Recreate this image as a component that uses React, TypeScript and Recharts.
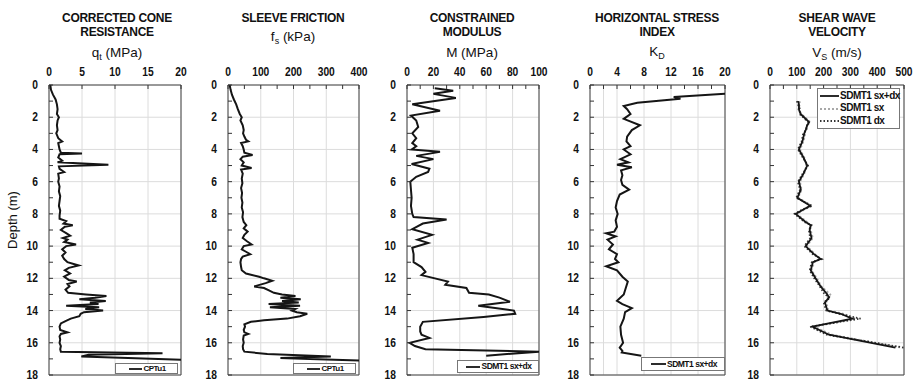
import { CartesianGrid, Line, LineChart, ReferenceArea, XAxis, YAxis } from "recharts";

// ---- data (depth in m) ----
const qtDepth = [0, 0.3, 0.6, 0.9, 1.2, 1.5, 1.8, 2.0, 2.2, 2.5, 2.8, 3.0, 3.3, 3.5, 3.6, 3.8, 4.0, 4.2, 4.25, 4.3, 4.5, 4.7, 4.8, 4.95, 5.05, 5.2, 5.4, 5.5, 5.8, 6.0, 6.3, 6.6, 6.9, 7.2, 7.5, 7.8, 8.1, 8.3, 8.45, 8.6, 8.7, 8.8, 9.0, 9.2, 9.35, 9.5, 9.6, 9.75, 9.9, 10.0, 10.2, 10.4, 10.6, 10.8, 11.0, 11.2, 11.35, 11.5, 11.7, 11.9, 12.1, 12.2, 12.35, 12.5, 12.7, 12.9, 13.0, 13.1, 13.2, 13.3, 13.4, 13.5, 13.6, 13.7, 13.75, 13.8, 13.9, 14.0, 14.1, 14.2, 14.35, 14.5, 14.65, 14.8, 15.0, 15.2, 15.35, 15.45, 15.6, 15.8, 16.0, 16.2, 16.4, 16.55, 16.65, 16.75, 16.85, 16.95, 17.05];
const qtValues = [0.2, 0.3, 0.6, 1.0, 1.2, 1.3, 1.2, 1.5, 1.3, 1.2, 1.3, 1.1, 1.4, 2.0, 1.4, 1.5, 1.6, 1.8, 5.0, 1.6, 1.4, 2.0, 1.3, 9.0, 1.5, 1.6, 2.3, 1.4, 1.5, 1.4, 1.6, 1.5, 1.7, 1.6, 1.5, 1.7, 1.6, 1.6, 2.6, 2.2, 3.6, 2.4, 1.8, 2.6, 3.2, 2.1, 2.8, 2.3, 4.1, 2.6, 2.0, 2.5, 2.0, 2.3, 2.8, 4.5, 3.0, 2.4, 3.2, 2.3, 3.0, 4.2, 2.8, 3.1, 2.5, 2.9, 5.6, 8.7, 7.0, 4.6, 8.6, 6.2, 7.5, 2.6, 5.0, 7.6, 5.5, 8.2, 5.3, 4.8, 4.6, 3.3, 2.5, 1.8, 1.6, 1.7, 2.8, 1.8, 1.6, 1.7, 1.6, 1.8, 1.7, 1.8, 17.2, 6.0, 4.9, 12.0, 20.0];

const fsDepth = [0, 0.3, 0.6, 0.9, 1.2, 1.5, 1.8, 2.0, 2.2, 2.5, 2.8, 3.0, 3.2, 3.4, 3.5, 3.6, 3.8, 4.0, 4.2, 4.35, 4.45, 4.6, 4.8, 5.0, 5.15, 5.25, 5.5, 5.8, 6.1, 6.4, 6.7, 7.0, 7.3, 7.6, 7.9, 8.2, 8.5, 8.7, 8.9, 9.1, 9.3, 9.5, 9.7, 9.9, 10.0, 10.2, 10.35, 10.5, 10.65, 10.8, 11.0, 11.3, 11.5, 11.7, 11.9, 12.0, 12.15, 12.3, 12.5, 12.6, 12.75, 12.9, 13.0, 13.1, 13.2, 13.3, 13.4, 13.5, 13.6, 13.7, 13.8, 13.9, 14.0, 14.1, 14.2, 14.35, 14.5, 14.6, 14.7, 14.85, 15.0, 15.2, 15.35, 15.45, 15.55, 15.8, 16.0, 16.2, 16.4, 16.55, 16.7, 16.85, 16.95, 17.0, 17.1];
const fsValues = [5, 8, 12, 18, 25, 30, 36, 42, 38, 45, 48, 46, 50, 55, 62, 40, 45, 48, 50, 75, 45, 38, 48, 42, 72, 40, 45, 42, 44, 40, 43, 41, 44, 42, 46, 44, 48, 56, 48, 60, 50, 45, 58, 72, 48, 42, 55, 68, 45, 40, 38, 40, 42, 55, 95, 110, 135, 115, 80, 110, 125, 140, 165, 206, 160, 222, 165, 216, 124, 220, 128, 205, 195, 210, 242, 220, 180, 110, 70, 50, 52, 48, 50, 62, 48, 46, 48, 45, 46, 50, 120, 314, 160, 250, 400];

const mDepth = [0.2, 0.35, 0.55, 0.8, 1.2, 1.6, 1.9, 2.2, 2.6, 3.0, 3.3, 3.6, 3.8, 4.0, 4.15, 4.4, 4.6, 4.9, 5.2, 5.4, 5.7, 6.0, 6.5, 7.0, 7.5, 8.0, 8.2, 8.35, 8.6, 8.95, 9.3, 9.6, 9.8, 10.1, 10.5, 11.0, 11.3, 11.6, 11.8, 12.2, 12.4, 12.6, 12.9, 13.0, 13.2, 13.45, 13.7, 14.0, 14.2, 14.4, 14.7, 15.0, 15.3, 15.5, 15.7, 16.0, 16.2, 16.4, 16.55, 16.8];
const mValues = [21, 35, 20, 37, 4, 25, 3, 7, 8.5, 4, 7, 4, 7, 3.5, 25, 7, 20, 3.5, 17, 16, 7, 2.5, 3, 3.5, 3, 4, 5, 30, 12, 4, 19, 8, 16, 4, 5, 5, 11, 14, 11, 31, 29, 45, 47, 62, 70, 78, 54, 81, 82, 58, 12, 10, 10, 11, 17, 2, 6, 14, 100, 60];

const kdDepth = [0.55, 0.75, 0.85, 1.1, 1.3, 1.5, 1.8, 2.1, 2.5, 2.8, 3.2, 3.5, 3.8, 4.0, 4.3, 4.6, 4.8, 4.95, 5.1, 5.3, 5.6, 5.9, 6.2, 6.5, 6.8, 7.2, 7.6, 8.0, 8.4, 8.8, 9.1, 9.2, 9.4, 9.6, 9.9, 10.2, 10.5, 10.8, 11.0, 11.25, 11.5, 11.9, 12.2, 12.6, 13.0, 13.4, 13.6, 13.85, 14.1, 14.5, 15.0, 15.5, 16.0, 16.3, 16.5, 16.6, 16.8];
const kdValues = [20, 12.4, 13.4, 7.0, 5.0, 5.5, 6.0, 5.0, 7.4, 6.2, 5.5, 5.4, 6.0, 5.0, 6.0, 4.5, 5.7, 4.0, 6.2, 4.6, 4.8, 4.6, 4.8, 5.8, 4.4, 4.0, 3.8, 4.1, 3.8, 4.0, 3.6, 2.4, 3.8, 2.6, 3.4, 2.8, 4.0, 3.7, 4.2, 2.4, 4.0, 4.8, 5.6, 5.3, 5.0, 4.0, 4.8, 6.2, 5.2, 5.0, 4.5, 4.6, 4.9, 4.4, 4.8, 4.7, 7.6];

const vsDepth = [1.0, 1.2, 1.5, 1.8, 2.0, 2.3, 2.5, 2.8, 3.0, 3.5, 4.0, 4.5, 5.0, 5.5, 6.0, 6.5, 7.0, 7.5, 7.7, 8.0, 8.5, 8.7, 9.0, 9.5, 10.0, 10.5, 10.8, 11.0, 11.5, 12.0, 12.5, 13.0, 13.2, 13.5, 14.0, 14.2, 14.5, 15.0, 15.5, 16.3];
const vsSxDx = [105, 108, 108, 114, 127, 146, 139, 133, 128, 121, 108, 125, 139, 125, 108, 115, 102, 150, 128, 96, 133, 152, 148, 155, 133, 164, 189, 160, 152, 170, 189, 214, 220, 205, 214, 264, 307, 158, 220, 468];
const vsSx = [110, 112, 105, 118, 130, 150, 140, 130, 132, 125, 112, 128, 135, 128, 112, 118, 105, 155, 132, 100, 138, 150, 152, 160, 138, 168, 185, 165, 155, 175, 192, 225, 215, 210, 218, 275, 320, 165, 230, 490];
const vsDx = [100, 104, 112, 110, 124, 142, 138, 136, 124, 118, 104, 122, 142, 122, 104, 112, 98, 158, 124, 92, 128, 155, 145, 150, 128, 160, 193, 156, 148, 165, 186, 204, 225, 200, 210, 258, 338, 150, 212, 500];

const depthTicks = [0, 1, 2, 3, 4, 5, 6, 7, 8, 9, 10, 11, 12, 13, 14, 15, 16, 17, 18];
const depthMajor = [0, 2, 4, 6, 8, 10, 12, 14, 16, 18];

const qtMajor = [0, 5, 10, 15, 20];
const fsMajor = [0, 100, 200, 300, 400];
const fsMinor = [0, 50, 100, 150, 200, 250, 300, 350, 400];
const mMajor = [0, 20, 40, 60, 80, 100];
const mMinor = [0, 10, 20, 30, 40, 50, 60, 70, 80, 90, 100];
const kdMajor = [0, 4, 8, 12, 16, 20];
const kdMinor = [0, 2, 4, 6, 8, 10, 12, 14, 16, 18, 20];
const kdGrid = [0, 2, 4, 8, 12, 16, 20];
const vsMajor = [0, 100, 200, 300, 400, 500];
const vsMinor = [0, 50, 100, 150, 200, 250, 300, 350, 400, 450, 500];

const qtRows = qtDepth.map((depth, i) => ({ depth, v: qtValues[i] }));
const fsRows = fsDepth.map((depth, i) => ({ depth, v: fsValues[i] }));
const mRows = mDepth.map((depth, i) => ({ depth, v: mValues[i] }));
const kdRows = kdDepth.map((depth, i) => ({ depth, v: kdValues[i] }));
const vsRows = vsDepth.map((depth, i) => ({ depth, sxdx: vsSxDx[i], sx: vsSx[i], dx: vsDx[i] }));

const FONT = "'Liberation Sans', Arial, Helvetica, sans-serif";
const PT = 85; // plot top
const PB = 375; // plot bottom
const AXW = 40; // y axis width
const AXH = 30; // x axis height (above plot)
const MR = 16;
const MB = 5;
const X_GAP = 9;
const Y_GAP = 11;
const SQUEEZE = 0.82; // tick digits in the source are narrow

const tickText = { fontFamily: FONT, fontSize: 12.5, fontWeight: 700, fill: "#111" };

type Series = { key: string; stroke: string; width: number; dash?: string };

type PanelProps = {
  x0: number;
  x1: number;
  rows: any[];
  series: Series[];
  domain: [number, number];
  major: number[];
  minor: number[];
  grid?: number[];
};

function Panel({ x0, x1, rows, series, domain, major, minor, grid }: PanelProps) {
  const xTick = (p: any) => {
    const v = p.payload.value;
    return (
      <g>
        <line x1={p.x} x2={p.x} y1={p.y + X_GAP} y2={p.y + X_GAP + 4} stroke="#333" strokeWidth={1} />
        {major.includes(v) && (
          <text transform={`translate(${p.x},${p.y}) scale(${SQUEEZE},1)`} textAnchor="middle" {...tickText}>
            {v}
          </text>
        )}
      </g>
    );
  };
  const yTick = (p: any) => {
    const v = p.payload.value;
    return (
      <g>
        <line x1={p.x + Y_GAP} x2={p.x + Y_GAP + 4} y1={p.y} y2={p.y} stroke="#333" strokeWidth={1} />
        {depthMajor.includes(v) && (
          <text transform={`translate(${p.x},${p.y + 4}) scale(${SQUEEZE},1)`} textAnchor="end" {...tickText}>
            {v}
          </text>
        )}
      </g>
    );
  };
  return (
    <div style={{ position: "absolute", left: x0 - AXW, top: PT - AXH }}>
      <LineChart
        layout="vertical"
        width={x1 - x0 + AXW + MR}
        height={PB - PT + AXH + MB}
        data={rows}
        margin={{ top: 0, right: MR, bottom: MB, left: 0 }}
      >
        <CartesianGrid stroke="#dcdcdc" horizontalValues={depthMajor} verticalValues={grid ?? major} />
        <XAxis
          type="number"
          orientation="top"
          height={AXH}
          domain={domain}
          ticks={minor}
          allowDataOverflow
          interval={0}
          tickLine={false}
          tickSize={0}
          tickMargin={X_GAP}
          axisLine={false}
          tick={xTick}
        />
        <YAxis
          type="number"
          dataKey="depth"
          domain={[0, 18]}
          ticks={depthTicks}
          allowDataOverflow
          interval={0}
          width={AXW}
          tickLine={false}
          tickSize={0}
          tickMargin={Y_GAP}
          axisLine={false}
          tick={yTick}
        />
        {series.map((s) => (
          <Line
            key={s.key}
            dataKey={s.key}
            type="linear"
            stroke={s.stroke}
            strokeWidth={s.width}
            strokeDasharray={s.dash}
            dot={false}
            isAnimationActive={false}
          />
        ))}
        <ReferenceArea x1={domain[0]} x2={domain[1]} y1={0} y2={18} fill="none" stroke="#444" strokeWidth={1} />
      </LineChart>
    </div>
  );
}

type LegendItem = { label: string; stroke: string; dash?: string };

function LegendBox({
  left,
  top,
  width,
  height,
  rowH,
  size,
  sample,
  items,
}: {
  left: number;
  top: number;
  width: number;
  height: number;
  rowH: number;
  size: number;
  sample: number;
  items: LegendItem[];
}) {
  return (
    <div
      style={{
        position: "absolute",
        left,
        top,
        width,
        height,
        background: "#fff",
        border: "1px solid #777",
        boxSizing: "border-box",
        display: "flex",
        flexDirection: "column",
        justifyContent: "center",
        fontFamily: FONT,
        fontSize: size,
        lineHeight: `${rowH}px`,
        fontWeight: 700,
        letterSpacing: -0.5,
        color: "#111",
      }}
    >
      {items.map((it) => (
        <div key={it.label} style={{ display: "flex", alignItems: "center", justifyContent: items.length > 1 ? "flex-start" : "center", height: rowH, paddingLeft: 2 }}>
          <svg width={sample} height={6} style={{ marginRight: 1, flex: "none" }}>
            <line x1={0} x2={sample} y1={3} y2={3} stroke={it.stroke} strokeWidth={1.8} strokeDasharray={it.dash} />
          </svg>
          <span style={{ whiteSpace: "nowrap" }}>{it.label}</span>
        </div>
      ))}
    </div>
  );
}

function Title({ cx, lines, unit, unitTop }: { cx: number; lines: string[]; unit: any; unitTop: number }) {
  return (
    <>
      {lines.map((l, i) => (
        <div
          key={l}
          style={{
            position: "absolute",
            left: cx - 90,
            width: 180,
            top: 11 + i * 14,
            textAlign: "center",
            fontFamily: FONT,
            fontSize: 12,
            fontWeight: 700,
            lineHeight: "14px",
            color: "#111",
            letterSpacing: -0.3,
          }}
        >
          {l}
        </div>
      ))}
      <div
        style={{
          position: "absolute",
          left: cx - 90,
          width: 180,
          top: unitTop,
          textAlign: "center",
          fontFamily: FONT,
          fontSize: 13.5,
          lineHeight: "16px",
          color: "#111",
        }}
      >
        {unit}
      </div>
    </>
  );
}

const sub = (s: string) => <span style={{ fontSize: 9, position: "relative", top: 3 }}>{s}</span>;

const solid: Series[] = [{ key: "v", stroke: "#151515", width: 2 }];

export default function App() {
  return (
    <div style={{ position: "absolute", left: 0, top: 0, width: 917, height: 380, background: "#fff", overflow: "hidden" }}>
      <Title cx={117} lines={["CORRECTED CONE", "RESISTANCE"]} unit={<>q{sub("t")} (MPa)</>} unitTop={45} />
      <Title cx={293} lines={["SLEEVE FRICTION"]} unit={<>f{sub("s")} (kPa)</>} unitTop={29} />
      <Title cx={472} lines={["CONSTRAINED", "MODULUS"]} unit={<>M (MPa)</>} unitTop={45} />
      <Title cx={657} lines={["HORIZONTAL STRESS", "INDEX"]} unit={<>K{sub("D")}</>} unitTop={44} />
      <Title cx={837} lines={["SHEAR WAVE", "VELOCITY"]} unit={<>V{sub("S")} (m/s)</>} unitTop={45} />

      <div
        style={{
          position: "absolute",
          left: 13 - 40,
          top: 220 - 8,
          width: 80,
          height: 16,
          lineHeight: "16px",
          textAlign: "center",
          transform: "rotate(-90deg)",
          fontFamily: FONT,
          fontSize: 13,
          color: "#111",
        }}
      >
        Depth (m)
      </div>

      <Panel x0={49} x1={181} rows={qtRows} series={solid} domain={[0, 20]} major={qtMajor} minor={qtMajor} />
      <Panel x0={228} x1={359} rows={fsRows} series={solid} domain={[0, 400]} major={fsMajor} minor={fsMinor} />
      <Panel x0={407} x1={539} rows={mRows} series={solid} domain={[0, 100]} major={mMajor} minor={mMinor} />
      <Panel x0={590} x1={725} rows={kdRows} series={solid} domain={[0, 20]} major={kdMajor} minor={kdMinor} grid={kdGrid} />
      <Panel
        x0={770}
        x1={904}
        rows={vsRows}
        series={[
          { key: "sx", stroke: "#a8a8a8", width: 1.8, dash: "2 2" },
          { key: "dx", stroke: "#333", width: 1.8, dash: "1.5 2" },
          { key: "sxdx", stroke: "#151515", width: 1.8 },
        ]}
        domain={[0, 500]}
        major={vsMajor}
        minor={vsMinor}
      />

      <LegendBox left={115} top={363} width={63} height={11} rowH={11} size={8} sample={13} items={[{ label: "CPTu1", stroke: "#151515" }]} />
      <LegendBox left={293} top={363} width={63} height={11} rowH={11} size={8} sample={13} items={[{ label: "CPTu1", stroke: "#151515" }]} />
      <LegendBox left={457} top={360} width={82} height={13} rowH={13} size={8.5} sample={14} items={[{ label: "SDMT1 sx+dx", stroke: "#151515" }]} />
      <LegendBox left={641} top={357} width={84} height={14} rowH={14} size={8.5} sample={15} items={[{ label: "SDMT1 sx+dx", stroke: "#151515" }]} />
      <LegendBox
        left={817}
        top={88}
        width={83}
        height={41}
        rowH={12.5}
        size={10}
        sample={19}
        items={[
          { label: "SDMT1 sx+dx", stroke: "#151515" },
          { label: "SDMT1 sx", stroke: "#a8a8a8", dash: "2 2" },
          { label: "SDMT1 dx", stroke: "#333", dash: "1.5 2" },
        ]}
      />
    </div>
  );
}
